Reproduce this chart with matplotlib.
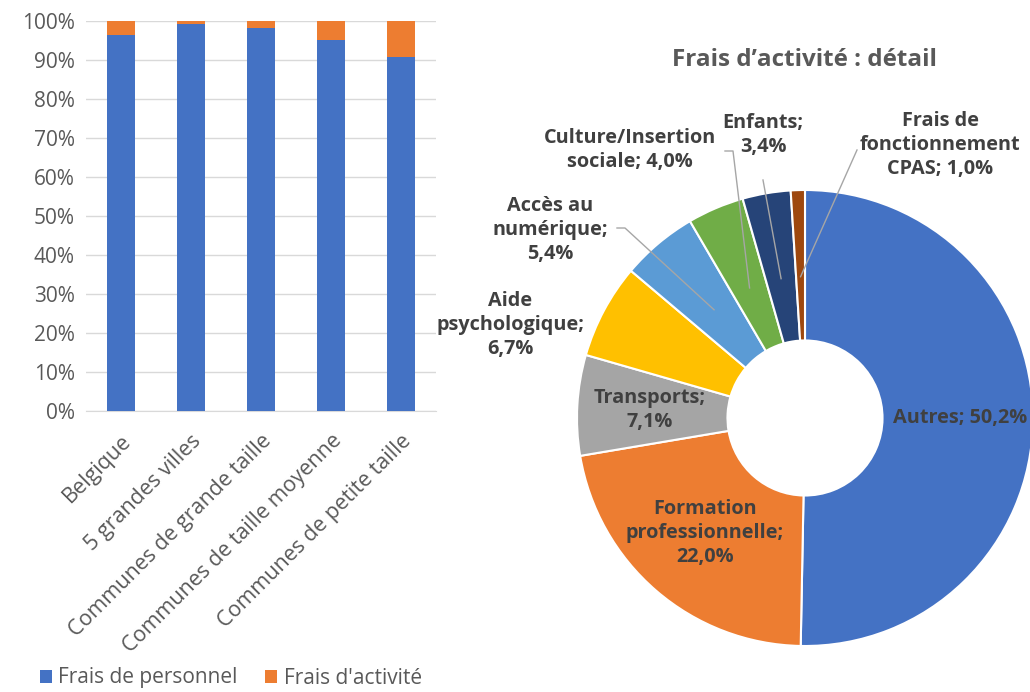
import numpy as np
import matplotlib.pyplot as plt

plt.rcParams['font.family'] = ['Open Sans', 'DejaVu Sans']

# bar chart data
categories = ["Belgique", "5 grandes villes", "Communes de grande taille",
              "Communes de taille moyenne", "Communes de petite taille"]
personnel = [96.3, 99.2, 98.2, 95.2, 90.8]
activite = [3.7, 0.8, 1.8, 4.8, 9.2]

# pie data
pie_labels = ["Autres", "Formation\nprofessionnelle", "Transports", "Aide\npsychologique",
              "Accès au\nnumérique", "Culture/Insertion\nsociale", "Enfants",
              "Frais de\nfonctionnement\nCPAS"]
pie_values = [50.2, 22.0, 7.1, 6.7, 5.4, 4.0, 3.4, 1.0]
pie_colors = ["#4472C4", "#ED7D31", "#A5A5A5", "#FFC000", "#5B9BD5", "#70AD47",
              "#264478", "#9E480E"]

W, H = 1030, 692
fig = plt.figure(figsize=(W / 100, H / 100), dpi=100)

# ---- stacked bars
ax = fig.add_axes([86 / W, (H - 411) / H, 350 / W, 390 / H])
x = np.arange(len(categories))
ax.bar(x, personnel, width=0.4, color="#4472C4", label="Frais de personnel", zorder=3)
ax.bar(x, activite, width=0.4, bottom=personnel, color="#ED7D31",
       label="Frais d'activité", zorder=3)
ax.set_xlim(-0.5, len(categories) - 0.5)
ax.set_ylim(0, 100)
ax.set_yticks(np.arange(0, 101, 10))
ax.set_yticklabels([f"{v}%" for v in range(0, 101, 10)])
ax.set_xticks(x)
ax.set_xticklabels(categories, rotation=45, ha="right", rotation_mode="anchor")
ax.grid(axis="y", color="#D9D9D9", linewidth=1, zorder=0)
for s in ["top", "right", "left"]:
    ax.spines[s].set_visible(False)
ax.spines["bottom"].set_color("#D9D9D9")
ax.tick_params(axis="y", length=0, labelsize=15, colors="#595959", pad=8)
ax.tick_params(axis="x", length=0, labelsize=15.5, colors="#595959", pad=14)

fig.legend(loc="center left", bbox_to_anchor=(25 / W, (H - 678) / H), ncol=2, frameon=False,
           fontsize=15, handlelength=0.6, handleheight=0.6, handletextpad=0.3,
           columnspacing=1.3, labelcolor="#595959", borderpad=0.2)

# ---- donut
R = 228
pax = fig.add_axes([(805 - R) / W, (H - 418 - R) / H, 2 * R / W, 2 * R / H])
wedges, _ = pax.pie(pie_values, colors=pie_colors, startangle=90, counterclock=False,
                    radius=1, wedgeprops=dict(width=0.66, edgecolor="white", linewidth=1.5))
pax.set_xlim(-1, 1)
pax.set_ylim(-1, 1)
pax.set_aspect("equal")
pax.axis("off")
for w in wedges:
    w.set_clip_on(False)

def px(xp, yp):
    return ((xp - 805) / R, (418 - yp) / R)

txt = dict(fontsize=14.3, fontweight="bold", color="#404040", ha="center", va="center",
           linespacing=1.25)
label_pos = [px(960, 418), px(705, 533), px(650, 410), px(510, 325),
             px(550, 230), px(630, 150), px(763, 135), px(940, 145)]
leader = [None, None, None, None, px(617, 228), px(725, 151), px(763, 180), px(857, 150)]

for i, (lab, val) in enumerate(zip(pie_labels, pie_values)):
    text = f"{lab}; {val:.1f}%".replace(".", ",")
    if lab in ("Formation\nprofessionnelle", "Transports", "Enfants", "Aide\npsychologique",
               "Accès au\nnumérique"):
        text = f"{lab};\n{val:.1f}%".replace(".", ",")
    w = wedges[i]
    mid = np.deg2rad((w.theta1 + w.theta2) / 2)
    if leader[i] is not None:
        r = 0.62
        tip = (r * np.cos(mid), r * np.sin(mid))
        sx, sy = leader[i]
        if i in (4, 5):
            pts = [(sx, sy), (sx + 8 / R, sy), tip]
        else:
            pts = [(sx, sy), tip]
        pax.plot([p[0] for p in pts], [p[1] for p in pts], color="#A6A6A6", lw=1,
                 clip_on=False, zorder=5)
    pax.text(label_pos[i][0], label_pos[i][1], text, clip_on=False, **txt)

tx, ty = px(805, 60)
pax.text(tx, ty, "Frais d\u2019activité : détail", fontsize=17.5, fontweight="bold",
         color="#595959", ha="center", va="center", clip_on=False)

fig.savefig("out.png", dpi=100)
